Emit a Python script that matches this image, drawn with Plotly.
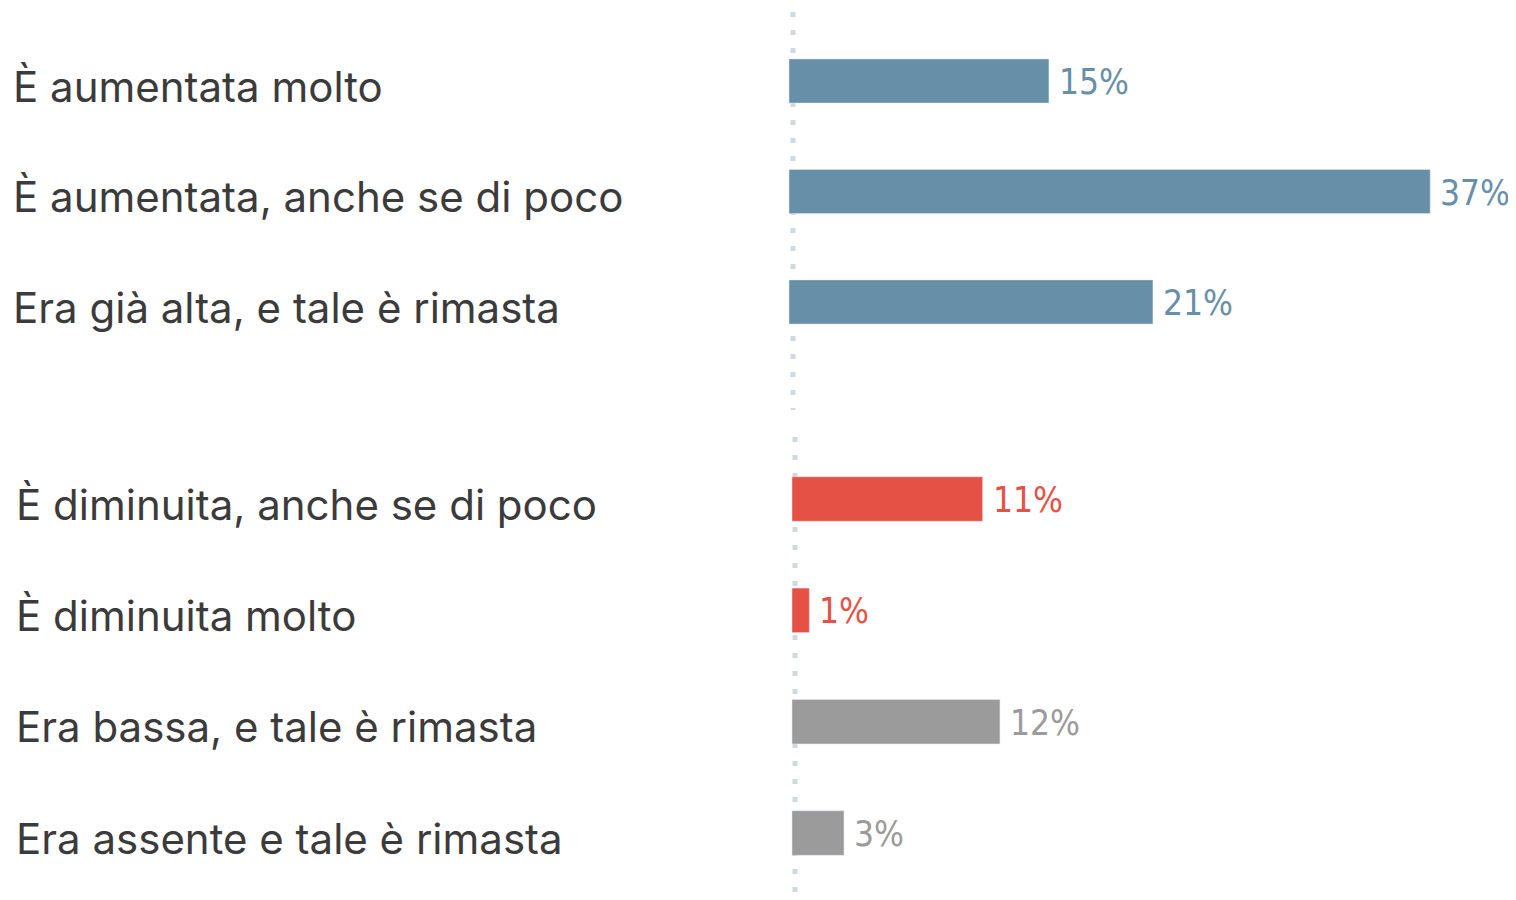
import plotly.graph_objects as go

# Data
top_labels = ["È aumentata molto", "È aumentata, anche se di poco", "Era già alta, e tale è rimasta"]
top_values = [15, 37, 21]
top_colors = ["#6790A8", "#6790A8", "#6790A8"]

bot_labels = ["È diminuita, anche se di poco", "È diminuita molto", "Era bassa, e tale è rimasta", "Era assente e tale è rimasta"]
bot_values = [11, 1, 12, 3]
bot_colors = ["#E65145", "#E65145", "#9B9B9B", "#9B9B9B"]

OFF = 8  # page body margin
W, H = 1516 - OFF, 900 - OFF
PXP = 17.33  # px per percent


def px(v):
    return v - OFF


fig = go.Figure()
fig.add_trace(go.Bar(y=top_labels, x=top_values, orientation="h", marker_color=top_colors,
                     width=0.4, xaxis="x", yaxis="y", hoverinfo="skip"))
fig.add_trace(go.Bar(y=bot_labels, x=bot_values, orientation="h", marker_color=bot_colors,
                     width=0.4, xaxis="x2", yaxis="y2", hoverinfo="skip"))

annotations = []
label_font = dict(family="Inter, Noto Sans, sans-serif", size=42, color="#3B3B3B")
val_font_family = "Liberation Sans Narrow, DejaVu Sans Condensed, sans-serif"
VAL_SIZE = 35
for lab, v, c in zip(top_labels, top_values, top_colors):
    annotations.append(dict(xref="paper", yref="y", x=px(11) / W, y=lab, text=lab, showarrow=False,
                            xanchor="left", yanchor="middle", yshift=-5, font=label_font))
    annotations.append(dict(xref="x", yref="y", x=v, y=lab, text=f"{v}%", showarrow=False,
                            xanchor="left", yanchor="middle", xshift=8, yshift=-1,
                            font=dict(family=val_font_family, size=VAL_SIZE, color=c)))
for lab, v, c in zip(bot_labels, bot_values, bot_colors):
    annotations.append(dict(xref="paper", yref="y2", x=px(14) / W, y=lab, text=lab, showarrow=False,
                            xanchor="left", yanchor="middle", yshift=-5, font=label_font))
    annotations.append(dict(xref="x2", yref="y2", x=v, y=lab, text=f"{v}%", showarrow=False,
                            xanchor="left", yanchor="middle", xshift=8, yshift=-1,
                            font=dict(family=val_font_family, size=VAL_SIZE, color=c)))

dot = dict(color="#CFD9E1", width=5, dash="5px,13px")
shapes = [
    dict(type="line", xref="paper", yref="paper", x0=px(793) / W, x1=px(793) / W,
         y0=1 - px(12) / H, y1=1 - px(410) / H, line=dot, layer="below"),
    dict(type="line", xref="paper", yref="paper", x0=px(795) / W, x1=px(795) / W,
         y0=1 - px(437) / H, y1=0, line=dot, layer="below"),
]

top_c = [81, 302]      # page px of first/last top bar centres
bot_c = [499, 833]     # page px of first/last bottom bar centres
sp_t = (top_c[1] - top_c[0]) / 2
sp_b = (bot_c[1] - bot_c[0]) / 3

fig.update_layout(
    width=W, height=H,
    margin=dict(l=0, r=0, t=0, b=0),
    paper_bgcolor="white", plot_bgcolor="white",
    showlegend=False,
    xaxis=dict(domain=[0, 1], anchor="y", range=[-px(789) / PXP, (W - px(789)) / PXP], visible=False),
    yaxis=dict(domain=[1 - px(410) / H, 1 - px(12) / H], anchor="x",
               range=[2 + (410 - top_c[1]) / sp_t, -(top_c[0] - 12) / sp_t], visible=False,
               categoryorder="array", categoryarray=top_labels),
    xaxis2=dict(domain=[0, 1], anchor="y2", range=[-px(792) / PXP, (W - px(792)) / PXP], visible=False),
    yaxis2=dict(domain=[0, 1 - px(437) / H], anchor="x2",
                range=[3 + (900 - bot_c[1]) / sp_b, -(bot_c[0] - 437) / sp_b], visible=False,
                categoryorder="array", categoryarray=bot_labels),
    annotations=annotations,
    shapes=shapes,
)

fig.write_html("out.html")
